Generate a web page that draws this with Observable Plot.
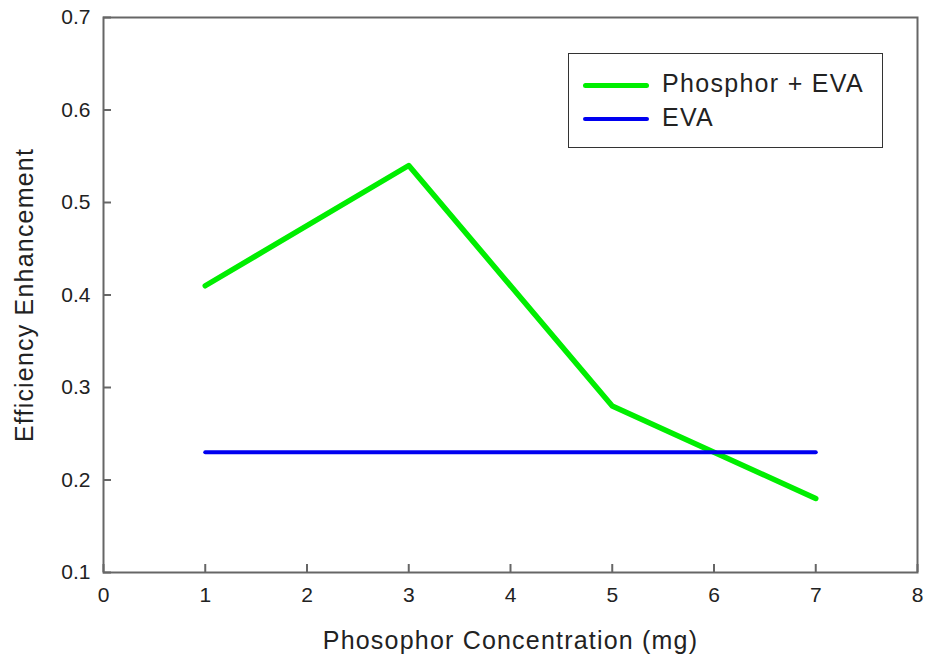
<!DOCTYPE html>
<html>
<head>
<meta charset="utf-8">
<script src="https://cdn.jsdelivr.net/npm/d3@7"></script>
<script src="https://cdn.jsdelivr.net/npm/@observablehq/plot@0.6"></script>
<style>
  html, body { margin: 0; padding: 0; background: #fff; }
  #wrap { position: relative; width: 926px; height: 664px; font-family: "Liberation Sans", Arial, sans-serif; color: #222; }
  #legend { position: absolute; left: 568px; top: 53px; width: 313px; height: 93px; border: 1.5px solid #333; background: #fff; box-sizing: content-box; }
  .lg-line { position: absolute; left: 14px; width: 66px; border-radius: 3px; }
  .lg-text { position: absolute; left: 93px; font-size: 25px; letter-spacing: 1.3px; line-height: 1; white-space: nowrap; color: #222; }
</style>
</head>
<body>
<div id="wrap"></div>
<script>
// ---- data ----
const concentration = [1, 3, 5, 7];
const phosphorEva = [0.41, 0.54, 0.28, 0.18];
const evaConcentration = [1, 7];
const evaValues = [0.23, 0.23];
const xTicks = [0, 1, 2, 3, 4, 5, 6, 7, 8];
const yTicks = [0.1, 0.2, 0.3, 0.4, 0.5, 0.6, 0.7];
const seriesNames = ["Phosphor + EVA", "EVA"];
const seriesColors = ["#00ee00", "#0000f0"];
const xLabel = "Phosophor Concentration (mg)";
const yLabel = "Efficiency Enhancement";

const greenData = concentration.map((c, i) => ({x: c, y: phosphorEva[i]}));
const blueData = evaConcentration.map((c, i) => ({x: c, y: evaValues[i]}));

const W = 926, H = 664, ML = 103, MR = 9, MT = 17, MB = 92, TICK = 8;
const frameW = W - ML - MR, frameH = H - MT - MB;

const chart = Plot.plot({
  width: W,
  height: H,
  marginLeft: ML,
  marginRight: MR,
  marginTop: MT,
  marginBottom: MB,
  style: {fontFamily: "Liberation Sans, Arial, sans-serif", color: "#222", background: "#fff"},
  x: {domain: [0, 8]},
  y: {domain: [0.1, 0.7]},
  marks: [
    Plot.line(greenData, {x: "x", y: "y", stroke: seriesColors[0], strokeWidth: 5.5, strokeLinejoin: "round", strokeLinecap: "round"}),
    Plot.line(blueData, {x: "x", y: "y", stroke: seriesColors[1], strokeWidth: 4, strokeLinecap: "round"}),
    // inward tick marks
    Plot.gridX(xTicks, {insetTop: frameH - TICK, stroke: "#666", strokeOpacity: 1, strokeWidth: 2}),
    Plot.gridY(yTicks, {insetRight: frameW - TICK, stroke: "#666", strokeOpacity: 1, strokeWidth: 2}),
    Plot.frame({stroke: "#666", strokeWidth: 2}),
    // tick labels
    Plot.axisX(xTicks, {tickSize: 0, tickPadding: 15, label: null, tickFormat: d3.format("d"), fill: "#222", fontSize: 21}),
    Plot.axisY(yTicks, {tickSize: 0, tickPadding: 13, label: null, tickFormat: d3.format(".1f"), fill: "#222", fontSize: 21}),
    Plot.text([xLabel], {frameAnchor: "bottom", dy: 76, lineAnchor: "bottom", textAnchor: "middle", text: d => d, fontSize: 25, fill: "#222"}),
    Plot.text([yLabel], {frameAnchor: "left", dx: -79, rotate: -90, lineAnchor: "middle", textAnchor: "middle", text: d => d, fontSize: 25, fill: "#222"})
  ]
});
chart.querySelectorAll('g[aria-label="text"] text').forEach(t => t.setAttribute("letter-spacing", "1.2"));
const wrap = document.getElementById("wrap");
wrap.appendChild(chart);

const legend = document.createElement("div");
legend.id = "legend";
const tops = [31, 65];
seriesNames.forEach((name, i) => {
  const ln = document.createElement("div");
  ln.className = "lg-line";
  ln.style.top = (tops[i] - (i === 0 ? 2.5 : 2)) + "px";
  ln.style.height = (i === 0 ? 5 : 4) + "px";
  ln.style.background = seriesColors[i];
  legend.appendChild(ln);
  const tx = document.createElement("div");
  tx.className = "lg-text";
  tx.style.top = (tops[i] - 14) + "px";
  tx.textContent = name;
  legend.appendChild(tx);
});
wrap.appendChild(legend);
</script>
</body>
</html>
